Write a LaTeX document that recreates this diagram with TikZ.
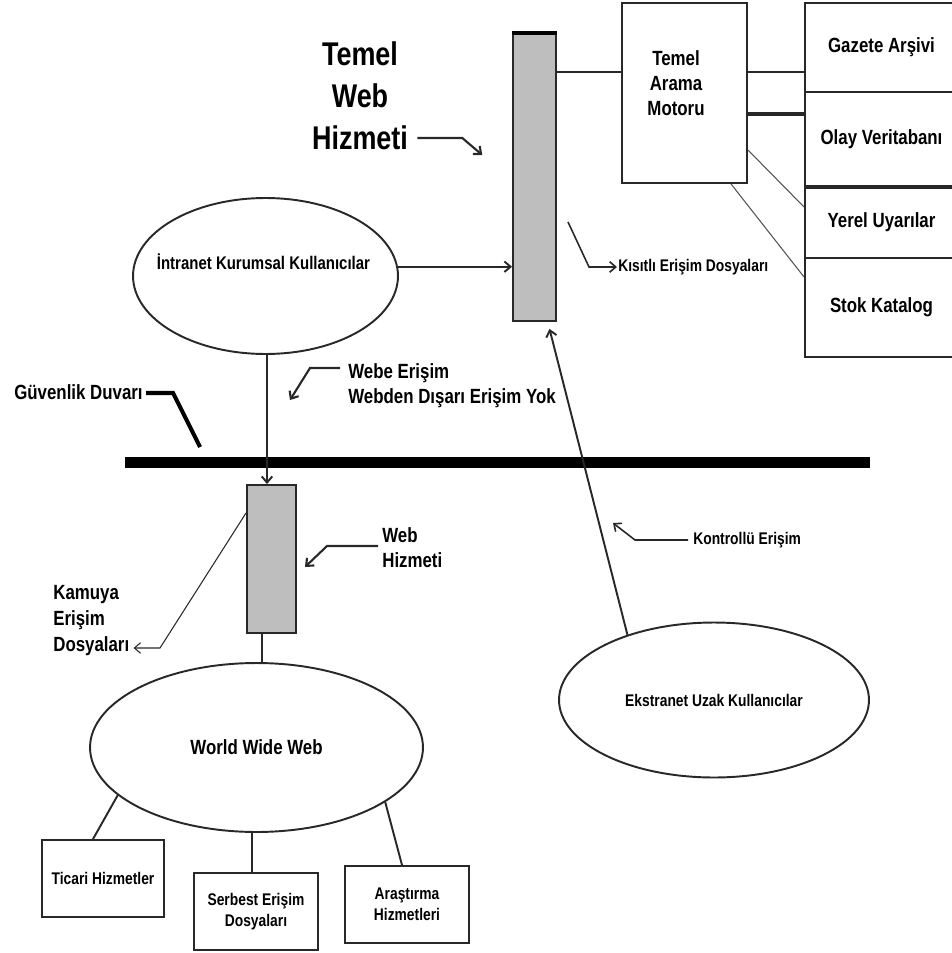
\documentclass[tikz,border=0pt]{standalone}
\usepackage{fontspec}
\setmainfont{Liberation Sans}[FakeStretch=0.82]
\usetikzlibrary{arrows.meta,calc,shapes.geometric}
\definecolor{barfill}{RGB}{190,190,190}
\definecolor{ink}{RGB}{40,40,40}
\begin{document}
\begin{tikzpicture}[x=0.02cm,y=-0.02cm,
  lbl/.style={inner sep=0pt, text=black, font=\bfseries\fontsize{11.7}{14.4}\selectfont},
  small/.style={inner sep=0pt, text=black, font=\bfseries\fontsize{9.6}{11.9}\selectfont},
  big/.style={inner sep=0pt, text=black, font=\bfseries\fontsize{18.7}{24}\selectfont},
  box/.style={draw=ink, line width=1.1pt, rectangle, inner sep=0pt},
  ell/.style={draw=ink, line width=1.1pt, ellipse, inner sep=0pt},
  wire/.style={draw=ink, line width=1.1pt},
  thinwire/.style={draw=ink!80, line width=0.6pt},
  callout/.style={draw=ink, line width=0.9pt, -{Straight Barb[length=3.5pt,width=6pt]}},
]
\useasboundingbox (0,0) rectangle (952,953);

% ---------- internal service and back-end ----------
\node[box, fill=barfill, minimum width=0.86cm, minimum height=5.74cm] (tbar) at (534.5,177.5) {};
\draw[line width=2.2pt] (tbar.north west) -- (tbar.north east);

\node[box, minimum width=2.5cm, minimum height=3.6cm] (motor) at (684.5,93) {};
\node[lbl, align=center] (motortxt) at (676,83) {Temel\\Arama\\Motoru};

\node[box, lbl, minimum width=3.06cm, minimum height=1.78cm] (gazete) at (881.5,47.5) {Gazete Arşivi};
\node[box, lbl, minimum width=3.06cm, minimum height=1.88cm] (olay) at (881.5,139) {Olay Veritabanı};
\node[box, lbl, minimum width=3.06cm, minimum height=1.44cm] (yerel) at (881.5,222) {Yerel Uyarılar};
\node[box, lbl, minimum width=3.06cm, minimum height=1.98cm] (stok) at (881.5,307.5) {Stok Katalog};
\draw[line width=2.2pt, ink] (olay.south west) -- (olay.south east);

\draw[wire] (tbar.east |- 0,72) -- (motor.west |- 0,72);
\draw[wire] (motor.east |- 0,72) -- (gazete.west |- 0,72);
\draw[draw=ink, line width=2.3pt] (motor.east |- 0,114) -- (olay.west |- 0,114);
\draw[thinwire] (motor.east |- 0,150) -- (yerel.west |- 0,207);
\draw[thinwire] (motor.south -| 731,0) -- (stok.west |- 0,277);

% ---------- big label of the internal service ----------
\node[big, align=center] (twh) at (360,95.5) {Temel\\Web\\Hizmeti};
\draw[callout, line width=1.2pt] ($(twh.east |- 0,138)+(9,0)$) -- ++(45,0) -- ++(20,17);

% ---------- intranet users ----------
\node[ell, minimum width=5.3cm, minimum height=3.12cm] (intra) at (265.5,276) {};
\node[inner sep=0pt, font=\bfseries\fontsize{10.4}{12}\selectfont] (intratxt) at (263.5,262) {İntranet Kurumsal Kullanıcılar};
\draw[wire, -{Straight Barb[length=3.5pt,width=6pt]}] (intra.4) -- (tbar.west |- intra.4);

\node[small, anchor=west] (kis) at (618,267) {Kısıtlı Erişim Dosyaları};
\coordinate (kisstart) at (568,222);
\draw[callout] (kisstart) -- (589,267) -- ($(kis.west)+(-1,0)$);

% ---------- firewall ----------
\node[fill=black, inner sep=0pt, minimum width=14.9cm, minimum height=0.22cm] (wall) at (497.5,462.5) {};
\node[lbl] (gd) at (78.5,392) {Güvenlik Duvarı};
\draw[line width=2.3pt, line join=miter] ($(gd.east)+(3,1)$) -- ++(27,0) -- ++(27,54);

% ---------- public web service ----------
\node[box, fill=barfill, minimum width=0.98cm, minimum height=2.96cm] (wbar) at (271.5,559) {};
\draw[wire, -{Straight Barb[length=3.5pt,width=6pt]}] (intra.south -| 267,0) -- (wbar.north -| 267,0);

\node[lbl, anchor=west, align=left] (webe) at (348,385.5) {Webe Erişim\\Webden Dışarı Erişim Yok};
\draw[callout, line width=1.2pt] ($(webe.west |- 0,368)+(-8,0)$) -- ++(-30,0) -- ++(-20,32);

\node[lbl, anchor=west, align=left] (whz) at (382,547.5) {Web\\Hizmeti};
\draw[callout, line width=1.2pt] ($(whz.west |- 0,546)+(-4,0)$) -- ++(-51,0) -- ++(-22,21);

\node[anchor=west, align=left, inner sep=0pt, font=\bfseries\fontsize{11.7}{14.8}\selectfont] (kam) at (53,621) {Kamuya\\Erişim\\Dosyaları};
\draw[callout, line width=0.6pt] (wbar.west |- 0,513) -- (160,648) -- ($(kam.east |- 0,648)+(4,0)$);

% ---------- extranet users ----------
\node[ell, small, minimum width=6.2cm, minimum height=3.1cm] (ekstra) at (714,700) {Ekstranet Uzak Kullanıcılar};
\draw[wire, -{Straight Barb[length=3.5pt,width=6pt]}] (ekstra.143) -- ($(tbar.south)+(15,7)$);

\node[small, anchor=west] (kon) at (693,540) {Kontrollü Erişim};
\draw[callout] ($(kon.west)+(-5,0)$) -- ++(-53,0) -- ++(-22,-17);

% ---------- world wide web ----------
\node[ell, lbl, minimum width=6.66cm, minimum height=3.38cm] (www) at (256.5,747.5) {World Wide Web};
\draw[wire] (wbar.south -| 262,0) -- (www.north -| 262,0);

\node[box, small, minimum width=2.44cm, minimum height=1.54cm] (ticari) at (103,878.5) {Ticari Hizmetler};
\node[box, small, align=center, minimum width=2.48cm, minimum height=1.54cm] (serbest) at (256,911.5) {Serbest Erişim\\Dosyaları};
\node[box, small, align=center, minimum width=2.48cm, minimum height=1.54cm] (arastirma) at (407,904.5) {Araştırma\\Hizmetleri};

\draw[wire] (ticari.north -| 93,0) -- (www.199);
\draw[wire] (serbest.north -| 252,0) -- (www.south -| 252,0);
\draw[wire] (arastirma.north -| 402,0) -- (www.337);
\end{tikzpicture}
\end{document}
